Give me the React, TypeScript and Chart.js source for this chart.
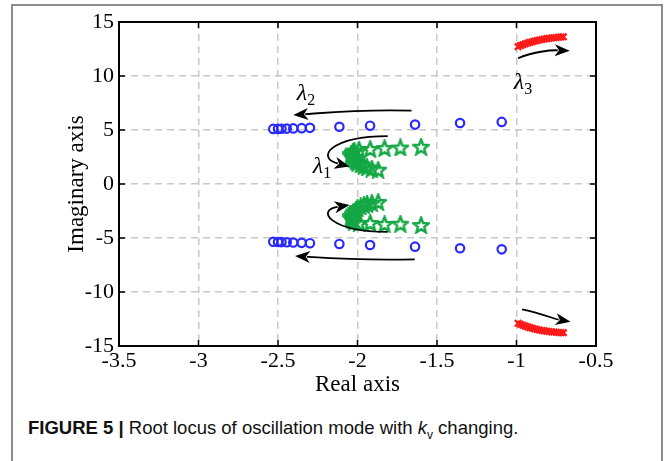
import React, { useEffect, useRef } from "react";
import { Chart, registerables } from "chart.js";

Chart.register(...registerables);

// ---- data ----
const xTickValues = [-3.5, -3, -2.5, -2, -1.5, -1, -0.5];
const xTickLabels = ["-3.5", "-3", "-2.5", "-2", "-1.5", "-1", "-0.5"];
const yTickValues = [-15, -10, -5, 0, 5, 10, 15];
const yTickLabels = ["-15", "-10", "-5", "0", "5", "10", "15"];

// λ2 (blue circles)
const lambda2UpperX = [-2.53, -2.50, -2.478, -2.445, -2.404, -2.351, -2.299, -2.114, -1.921, -1.638, -1.355, -1.093];
const lambda2UpperY = [5.1, 5.1, 5.12, 5.13, 5.15, 5.17, 5.2, 5.3, 5.4, 5.5, 5.65, 5.75];
const lambda2LowerX = [-2.53, -2.50, -2.478, -2.445, -2.404, -2.351, -2.299, -2.114, -1.921, -1.638, -1.355, -1.093];
const lambda2LowerY = [-5.35, -5.37, -5.38, -5.4, -5.42, -5.45, -5.48, -5.55, -5.65, -5.8, -5.95, -6.05];

// λ1 (green stars)
const lambda1UpperX = [-1.60, -1.73, -1.83, -1.92, -1.99, -2.02, -2.03, -2.04, -2.04, -2.03, -2.02, -2.01, -2.00, -1.98, -1.96, -1.94, -1.91, -1.87];
const lambda1UpperY = [3.45, 3.38, 3.33, 3.25, 3.18, 3.10, 2.95, 2.80, 2.62, 2.45, 2.28, 2.12, 1.98, 1.82, 1.68, 1.55, 1.43, 1.33];
const lambda1LowerX = [-1.60, -1.73, -1.83, -1.92, -1.99, -2.02, -2.03, -2.04, -2.04, -2.03, -2.02, -2.01, -2.00, -1.98, -1.96, -1.94, -1.91, -1.87];
const lambda1LowerY = [-3.80, -3.68, -3.70, -3.60, -3.62, -3.50, -3.33, -3.15, -2.95, -2.75, -2.55, -2.38, -2.22, -2.08, -1.95, -1.84, -1.74, -1.66];

// λ3 (red crosses)
const lambda3X = [-0.99, -0.975, -0.96, -0.945, -0.93, -0.915, -0.90, -0.885, -0.87, -0.855, -0.84, -0.825, -0.81, -0.795, -0.78, -0.765, -0.75, -0.735, -0.72, -0.705];
const lambda3UpperY = [12.72, 12.82, 12.90, 12.98, 13.05, 13.12, 13.18, 13.24, 13.29, 13.34, 13.38, 13.42, 13.46, 13.49, 13.52, 13.55, 13.57, 13.59, 13.61, 13.63];
const lambda3LowerY = [-12.90, -12.99, -13.08, -13.16, -13.23, -13.30, -13.36, -13.42, -13.47, -13.52, -13.56, -13.60, -13.63, -13.66, -13.69, -13.71, -13.73, -13.75, -13.76, -13.77];

// annotation arrows (data coordinates): start, control1, control2, end
const arrowPaths = [
  [[-1.66, 6.79], [-1.95, 6.95], [-2.2, 6.6], [-2.404, 6.39]],
  [[-1.64, -6.97], [-1.95, -7.1], [-2.2, -6.85], [-2.393, -6.67]],
  [[-1.81, 4.44], [-2.18, 4.4], [-2.26, 2.4], [-2.05, 1.62]],
  [[-1.81, -4.44], [-2.18, -4.4], [-2.26, -2.4], [-2.05, -1.95]],
  [[-0.99, 11.64], [-0.9, 12.25], [-0.78, 12.4], [-0.665, 12.34]],
  [[-0.965, -11.6], [-0.86, -11.9], [-0.76, -12.5], [-0.66, -12.75]],
];
const lambdaLabels = [
  { name: "2", x: -2.33, y: 8.4 },
  { name: "1", x: -2.23, y: 1.65 },
  { name: "3", x: -0.965, y: 9.45 },
];

const zip = (xs: number[], ys: number[]) => xs.map((x, i) => ({ x, y: ys[i] }));

function makeStar(color: string): HTMLCanvasElement {
  const c = document.createElement("canvas");
  const s = 18;
  c.width = s;
  c.height = s;
  const g = c.getContext("2d")!;
  g.strokeStyle = color;
  g.lineWidth = 2.4;
  g.lineJoin = "miter";
  g.beginPath();
  const cx = s / 2, cy = s / 2 + 0.8, R = 8, r = 3.4;
  for (let i = 0; i < 10; i++) {
    const a = -Math.PI / 2 + (i * Math.PI) / 5;
    const rad = i % 2 === 0 ? R : r;
    const px = cx + rad * Math.cos(a);
    const py = cy + rad * Math.sin(a);
    if (i === 0) g.moveTo(px, py);
    else g.lineTo(px, py);
  }
  g.closePath();
  g.stroke();
  return c;
}

const framePlugin = {
  id: "framePlugin",
  afterDatasetsDraw(chart: any) {
    const { ctx, chartArea } = chart;
    const xs = chart.scales.x;
    const ys = chart.scales.y;
    const { left, right, top, bottom } = chartArea;
    ctx.save();
    // arrows
    ctx.strokeStyle = "#000";
    ctx.fillStyle = "#000";
    ctx.lineWidth = 1.8;
    for (const p of arrowPaths) {
      const pts = p.map(([x, y]) => [xs.getPixelForValue(x), ys.getPixelForValue(y)]);
      const [p0, p1, p2, p3] = pts;
      const ang = Math.atan2(p3[1] - p2[1], p3[0] - p2[0]);
      const L = 15, W = 6;
      const bx = p3[0] - L * 0.8 * Math.cos(ang);
      const by = p3[1] - L * 0.8 * Math.sin(ang);
      ctx.beginPath();
      ctx.moveTo(p0[0], p0[1]);
      ctx.bezierCurveTo(p1[0], p1[1], p2[0], p2[1], bx, by);
      ctx.stroke();
      ctx.beginPath();
      ctx.moveTo(p3[0], p3[1]);
      ctx.lineTo(p3[0] - L * Math.cos(ang) + W * Math.sin(ang), p3[1] - L * Math.sin(ang) - W * Math.cos(ang));
      ctx.lineTo(p3[0] - L * 0.72 * Math.cos(ang), p3[1] - L * 0.72 * Math.sin(ang));
      ctx.lineTo(p3[0] - L * Math.cos(ang) - W * Math.sin(ang), p3[1] - L * Math.sin(ang) + W * Math.cos(ang));
      ctx.closePath();
      ctx.fill();
    }
    // lambda labels
    ctx.textBaseline = "alphabetic";
    ctx.textAlign = "left";
    for (const lb of lambdaLabels) {
      const px = xs.getPixelForValue(lb.x);
      const py = ys.getPixelForValue(lb.y);
      ctx.font = 'italic 24px "Liberation Serif", serif';
      const w = ctx.measureText("λ").width;
      ctx.fillText("λ", px - w / 2 - 3, py + 7);
      ctx.font = '16px "Liberation Serif", serif';
      ctx.fillText(lb.name, px + w / 2 - 3, py + 12);
    }
    // box
    ctx.strokeStyle = "#000";
    ctx.lineWidth = 2;
    ctx.strokeRect(left, top, right - left, bottom - top);
    // inward ticks
    const tl = 6;
    ctx.beginPath();
    for (const v of xTickValues) {
      const px = xs.getPixelForValue(v);
      ctx.moveTo(px, bottom);
      ctx.lineTo(px, bottom - tl);
      ctx.moveTo(px, top);
      ctx.lineTo(px, top + tl);
    }
    for (const v of yTickValues) {
      const py = ys.getPixelForValue(v);
      ctx.moveTo(left, py);
      ctx.lineTo(left + tl, py);
      ctx.moveTo(right, py);
      ctx.lineTo(right - tl, py);
    }
    ctx.lineWidth = 1.5;
    ctx.stroke();
    ctx.restore();
  },
};

export default function App() {
  const ref = useRef<HTMLCanvasElement | null>(null);
  useEffect(() => {
    if (!ref.current) return;
    const star = makeStar("#14a845");
    const tickFont = { family: '"Liberation Serif", "Times New Roman", serif', size: 22 };
    const titleFont = { family: '"Liberation Serif", "Times New Roman", serif', size: 23 };
    const circle = {
      pointStyle: "circle",
      pointRadius: 4.2,
      pointBorderWidth: 2.2,
      borderColor: "#2a2aff",
      pointBackgroundColor: "rgba(0,0,0,0)",
      backgroundColor: "rgba(0,0,0,0)",
      showLine: false,
    };
    const stars = {
      pointStyle: star,
      pointRadius: 9,
      borderColor: "#14a845",
      backgroundColor: "#14a845",
      showLine: false,
    };
    const cross = {
      pointStyle: "crossRot",
      pointRadius: 4.5,
      pointBorderWidth: 2.4,
      borderColor: "#ff1a1a",
      backgroundColor: "#ff1a1a",
      showLine: false,
    };
    const chart = new Chart(ref.current, {
      type: "scatter",
      data: {
        datasets: [
          { label: "λ2 upper", data: zip(lambda2UpperX, lambda2UpperY), ...circle },
          { label: "λ2 lower", data: zip(lambda2LowerX, lambda2LowerY), ...circle },
          { label: "λ1 upper", data: zip(lambda1UpperX, lambda1UpperY), ...stars },
          { label: "λ1 lower", data: zip(lambda1LowerX, lambda1LowerY), ...stars },
          { label: "λ3 upper", data: zip(lambda3X, lambda3UpperY), ...cross },
          { label: "λ3 lower", data: zip(lambda3X, lambda3LowerY), ...cross },
        ] as any,
      },
      options: {
        animation: false,
        responsive: false,
        devicePixelRatio: 1,
        layout: { padding: { left: 50, right: 68, top: 22, bottom: 0 } },
        plugins: { legend: { display: false }, tooltip: { enabled: false } },
        scales: {
          x: {
            type: "linear",
            min: -3.5,
            max: -0.5,
            afterBuildTicks: (s: any) => {
              s.ticks = xTickValues.map((v) => ({ value: v }));
            },
            afterFit: (s: any) => {
              s.height = 64;
            },
            ticks: {
              font: tickFont,
              color: "#000",
              padding: 2,
              maxRotation: 0,
              callback: (_v: any, i: number) => xTickLabels[i],
            },
            grid: { color: "#c8c8c8", lineWidth: 1.5, drawTicks: false },
            border: { display: false, dash: [7, 5] },
            title: { display: true, text: "Real axis", font: titleFont, color: "#000", padding: { top: 0, bottom: 11 } },
          },
          y: {
            type: "linear",
            min: -15,
            max: 15,
            afterBuildTicks: (s: any) => {
              s.ticks = yTickValues.map((v) => ({ value: v }));
            },
            afterFit: (s: any) => {
              s.width = 69;
            },
            ticks: {
              font: tickFont,
              color: "#000",
              padding: 5,
              callback: (_v: any, i: number) => yTickLabels[i],
            },
            grid: { color: "#c8c8c8", lineWidth: 1.5, drawTicks: false },
            border: { display: false, dash: [7, 5] },
            title: { display: true, text: "Imaginary axis", font: titleFont, color: "#000", padding: { top: 13, bottom: 0 } },
          },
        },
      } as any,
      plugins: [framePlugin],
    });
    return () => chart.destroy();
  }, []);

  return (
    <div style={{ position: "absolute", left: 0, top: 0, width: 664, height: 461, overflow: "hidden", background: "#fff" }}>
      <div
        style={{
          position: "absolute",
          left: 11,
          top: 4,
          width: 648,
          height: 470,
          borderLeft: "2px solid #8c8c8c",
          borderTop: "2px solid #8c8c8c",
          borderRight: "2px solid #8c8c8c",
        }}
      />
      <canvas ref={ref} width={664} height={410} style={{ position: "absolute", left: 0, top: 0, width: 664, height: 410 }} />
      <div
        style={{
          position: "absolute",
          left: 28,
          top: 417,
          fontFamily: '"Liberation Sans", Arial, sans-serif',
          fontSize: 18.5,
          color: "#111",
          whiteSpace: "nowrap",
          lineHeight: "22px",
        }}
      >
        <b>FIGURE 5 |</b> Root locus of oscillation mode with <i>k</i>
        <sub style={{ fontSize: 12 }}>v</sub> changing.
      </div>
    </div>
  );
}
